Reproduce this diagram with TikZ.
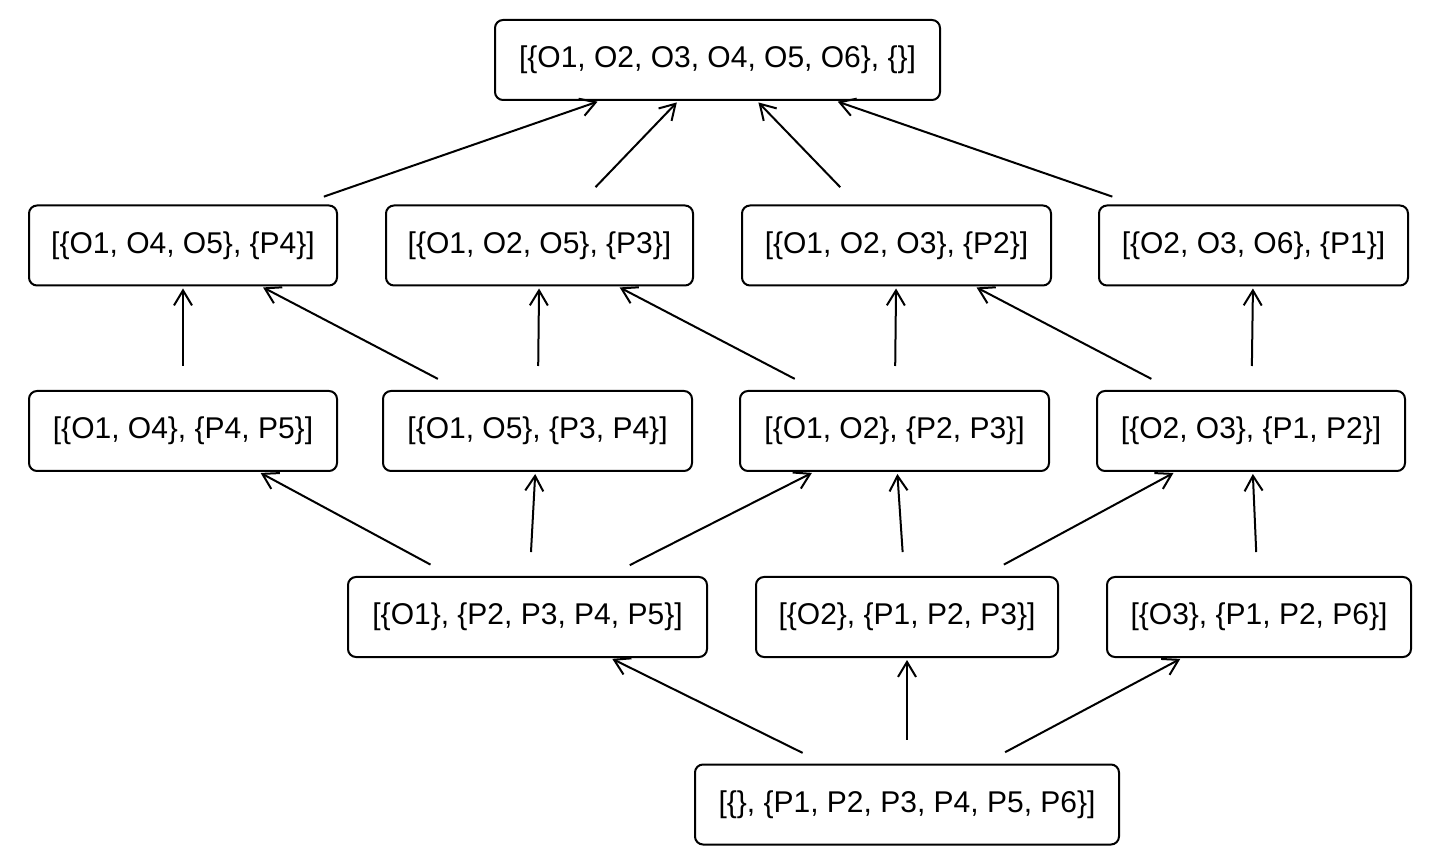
\documentclass[tikz,border=0pt]{standalone}
\usepackage{fontspec}
\setmainfont{Liberation Sans}
\usetikzlibrary{arrows.meta}
\begin{document}
\begin{tikzpicture}[x=0.5pt,y=-0.5pt,
  box/.style={draw, line width=1pt, rounded corners=4pt, minimum height=40pt, inner sep=2pt, font=\fontsize{15pt}{18pt}\selectfont},
  edge/.style={line width=1pt, -{Straight Barb[length=7.5pt,width=9pt]}, shorten <=12pt, shorten >=1pt}]
\useasboundingbox (0,0) rectangle (1440,865);

\node[box, minimum width=222.5pt] (top) at (717.5,60) {[\{O1, O2, O3, O4, O5, O6\}, \{\}]};

\node[box, minimum width=154pt]   (A) at (183,245.5)    {[\{O1, O4, O5\}, \{P4\}]};
\node[box, minimum width=153.5pt] (B) at (539.5,245.5)  {[\{O1, O2, O5\}, \{P3\}]};
\node[box, minimum width=154.5pt] (C) at (896.5,245.5)  {[\{O1, O2, O3\}, \{P2\}]};
\node[box, minimum width=154.5pt] (D) at (1253.5,245.5) {[\{O2, O3, O6\}, \{P1\}]};

\node[box, minimum width=154pt]   (E) at (183,431)    {[\{O1, O4\}, \{P4, P5\}]};
\node[box, minimum width=154.5pt] (F) at (537.5,431)  {[\{O1, O5\}, \{P3, P4\}]};
\node[box, minimum width=154.5pt] (G) at (894.5,431)  {[\{O1, O2\}, \{P2, P3\}]};
\node[box, minimum width=154pt]   (H) at (1251,431)   {[\{O2, O3\}, \{P1, P2\}]};

\node[box, minimum width=179.5pt] (I) at (527.5,617) {[\{O1\}, \{P2, P3, P4, P5\}]};
\node[box, minimum width=151pt]   (J) at (907,617)   {[\{O2\}, \{P1, P2, P3\}]};
\node[box, minimum width=152pt]   (K) at (1259,617)  {[\{O3\}, \{P1, P2, P6\}]};

\node[box, minimum width=212pt] (L) at (907,804.5) {[\{\}, \{P1, P2, P3, P4, P5, P6\}]};

\draw[edge] (A) -- (top);
\draw[edge] (B) -- (top);
\draw[edge] (C) -- (top);
\draw[edge] (D) -- (top);

\draw[edge] (E) -- (A);
\draw[edge] (F) -- (A);
\draw[edge] (F) -- (B);
\draw[edge] (G) -- (B);
\draw[edge] (G) -- (C);
\draw[edge] (H) -- (C);
\draw[edge] (H) -- (D);

\draw[edge] (I) -- (E);
\draw[edge] (I) -- (F);
\draw[edge] (I) -- (G);
\draw[edge] (J) -- (G);
\draw[edge] (J) -- (H);
\draw[edge] (K) -- (H);

\draw[edge] (L) -- (I);
\draw[edge] (L) -- (J);
\draw[edge] (L) -- (K);
\end{tikzpicture}
\end{document}
